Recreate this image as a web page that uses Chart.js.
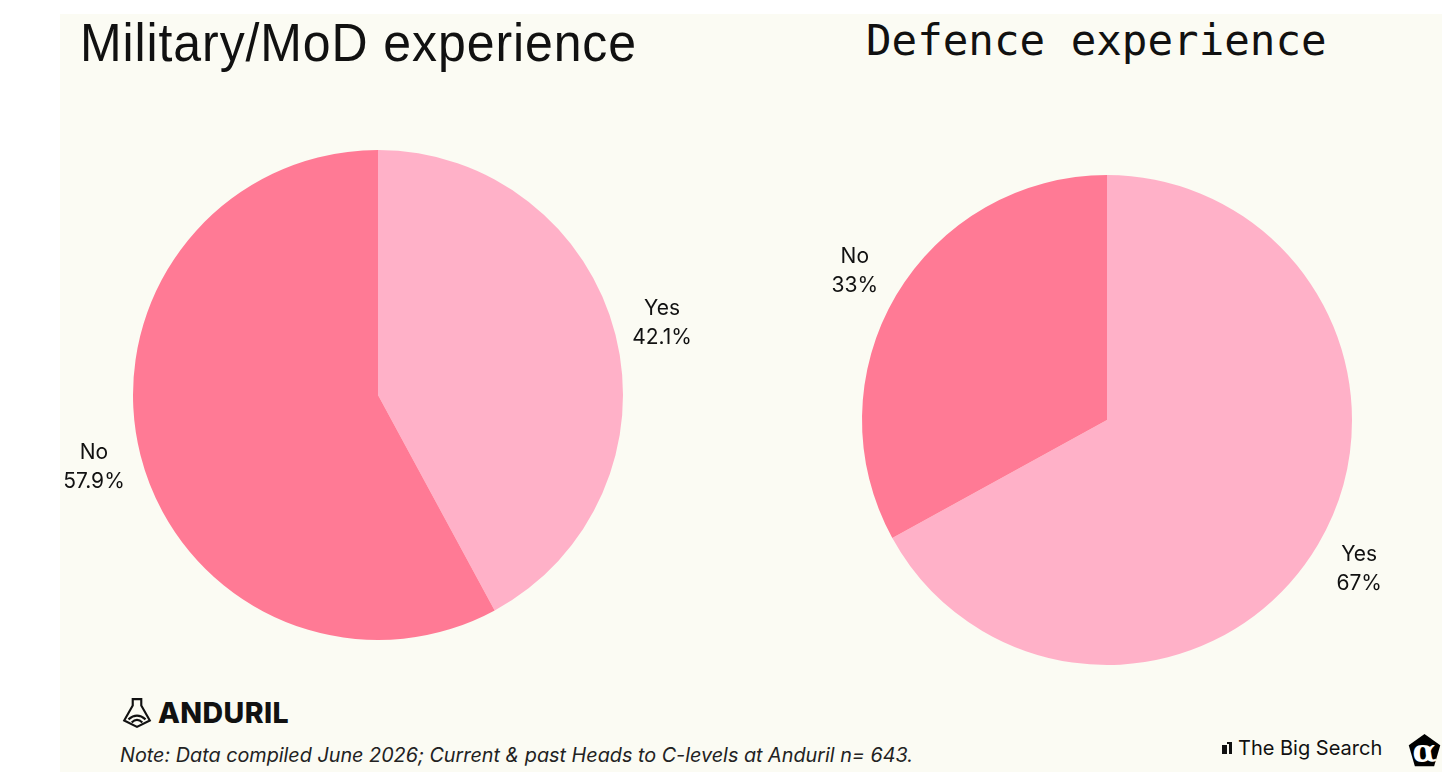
<!DOCTYPE html>
<html>
<head>
<meta charset="utf-8">
<script src="https://cdn.jsdelivr.net/npm/chart.js@4"></script>
<style>
  html, body { margin: 0; padding: 0; background: #ffffff; }
  body { width: 1456px; height: 778px; position: relative; overflow: hidden; font-family: Inter, "Noto Sans", sans-serif; }
  #panel { position: absolute; left: 60px; top: 14px; width: 1382px; height: 758px; background: #fbfbf3; }
  .title { position: absolute; color: #111; white-space: nowrap; }
  #title1 { left: 80px; top: 12px; font-family: "Liberation Sans", sans-serif; font-size: 50px; letter-spacing: 0.9px; transform-origin: left top; transform: scale(1, 1.06); }
  #title2 { left: 866px; top: 16px; font-family: "DejaVu Sans Mono", monospace; font-size: 42.5px; }
  .chart { position: absolute; width: 680px; height: 560px; }
  #c1 { left: 38px; top: 115px; }
  #c2 { left: 767px; top: 140px; }
  #anduril { position: absolute; left: 121px; top: 695px; display: flex; align-items: center; gap: 5px; font-weight: 800; font-size: 28.5px; color: #111; letter-spacing: 0.4px; }
  #note { position: absolute; left: 120px; top: 743px; font-style: italic; font-size: 19.8px; color: #222; }
  #tbs { position: absolute; left: 1222px; top: 736px; display: flex; align-items: center; gap: 4px; font-size: 20px; color: #111; letter-spacing: 0px; }
  #alpha { position: absolute; left: 1407px; top: 733px; }
</style>
</head>
<body>
<div id="panel"></div>
<div class="title" id="title1">Military/MoD experience</div>
<div class="title" id="title2">Defence experience</div>
<canvas class="chart" id="c1" width="680" height="560"></canvas>
<canvas class="chart" id="c2" width="680" height="560"></canvas>
<div id="anduril">
  <svg width="32" height="32" viewBox="0 0 30 30" fill="none" stroke="#111" stroke-width="2">
    <path d="M11 2 H19 V8 L27 22 L15 28 L3 22 L11 8 Z"/>
    <path d="M7 21 Q15 14 23 21"/>
    <path d="M10 24 Q15 19 20 24"/>
  </svg>
  <span>ANDURIL</span>
</div>
<div id="note">Note: Data compiled June 2026; Current &amp; past Heads to C-levels at Anduril n= 643.</div>
<div id="tbs">
  <svg width="12" height="12" viewBox="0 0 12 12"><rect x="0" y="3" width="5" height="9" fill="#111"/><rect x="7" y="0" width="3" height="12" fill="#111"/><rect x="5" y="0" width="4" height="2" fill="#111"/></svg>
  <span>The Big Search</span>
</div>
<svg id="alpha" width="35" height="35" viewBox="0 0 38 40">
  <polygon points="19,1 37,14 30,38 8,38 1,14" fill="#000"/>
  <text x="19" y="33" text-anchor="middle" font-family="DejaVu Serif, serif" font-weight="bold" font-size="36" fill="#fff">α</text>
</svg>
<script>
const militaryLabels = ["Yes", "No"]
const militaryValues = [42.1, 57.9]
const defenceLabels = ["Yes", "No"]
const defenceValues = [67, 33]
const sliceColors = ["#ffb1c8", "#ff7a95"]

// Labels drawn outside each slice, two lines: category and percent
const outsideLabels = {
  id: "outsideLabels",
  afterDatasetsDraw(chart) {
    const ctx = chart.ctx
    const meta = chart.getDatasetMeta(0)
    const values = chart.data.datasets[0].data
    ctx.save()
    ctx.fillStyle = "#111"
    ctx.font = "21px Inter, 'Noto Sans', sans-serif"
    ctx.textAlign = "center"
    ctx.textBaseline = "middle"
    meta.data.forEach((arc, i) => {
      const mid = (arc.startAngle + arc.endAngle) / 2
      const r = arc.outerRadius + 48
      const x = arc.x + Math.cos(mid) * r
      const y = arc.y + Math.sin(mid) * r
      ctx.fillText(chart.data.labels[i], x, y - 14)
      ctx.fillText(values[i] + "%", x, y + 15)
    })
    ctx.restore()
  },
}

function makePie(id, labels, values) {
  new Chart(document.getElementById(id), {
    type: "pie",
    data: {
      labels: labels,
      datasets: [
        {
          data: values,
          backgroundColor: sliceColors,
          borderWidth: 0,
        },
      ],
    },
    options: {
      responsive: false,
      animation: false,
      layout: { padding: 35 },
      plugins: {
        legend: { display: false },
        tooltip: { enabled: false },
      },
    },
    plugins: [outsideLabels],
  })
}

makePie("c1", militaryLabels, militaryValues)
makePie("c2", defenceLabels, defenceValues)
</script>
</body>
</html>
